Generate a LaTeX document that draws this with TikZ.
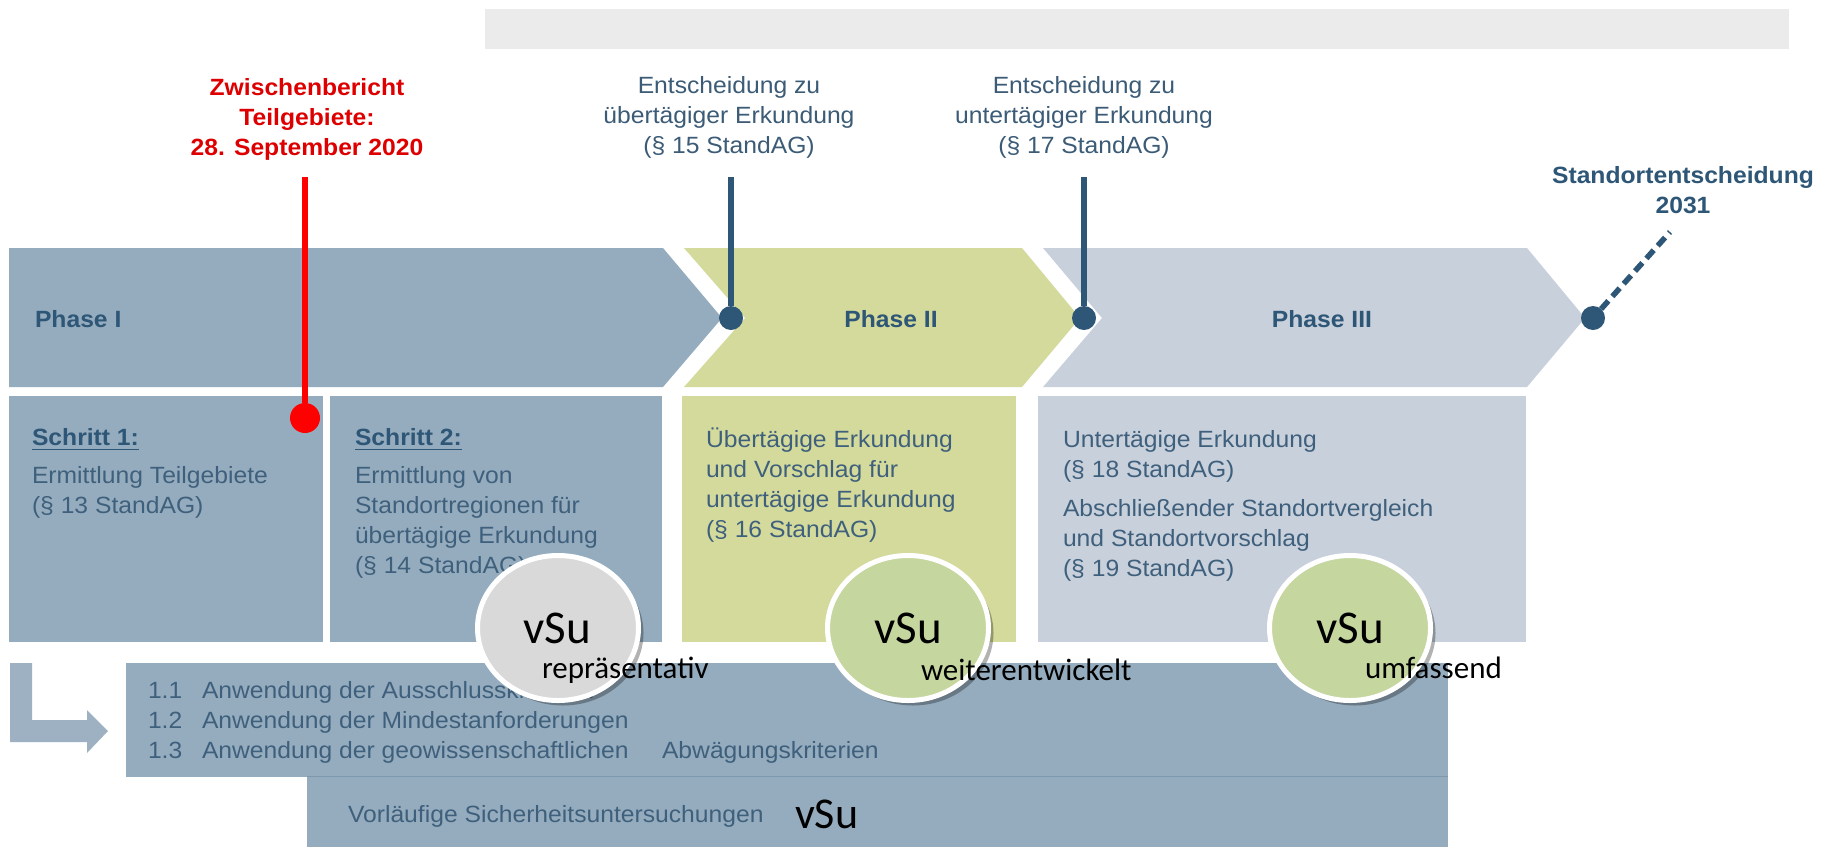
\documentclass[tikz,border=0pt]{standalone}
\usepackage{fontspec}
\setmainfont{Liberation Sans}[FakeStretch=1.05]
\newfontfamily\calib{Carlito}
\usetikzlibrary{shadows,shapes.geometric}
\definecolor{pone}{HTML}{95ACBE}
\definecolor{ptwo}{HTML}{D4DA9C}
\definecolor{pthree}{HTML}{C8D0DC}
\definecolor{topbar}{HTML}{EBEBEB}
\definecolor{dkblue}{HTML}{2E5676}
\definecolor{txtblue}{HTML}{3B5B76}
\definecolor{boxtxt}{HTML}{3F607C}
\definecolor{circgrey}{HTML}{D9D9D9}
\definecolor{circgreen}{HTML}{C5D69F}
\definecolor{arrowc}{HTML}{9DB1C2}
\definecolor{redline}{HTML}{FF0000}
\definecolor{redtxt}{HTML}{DE0000}
\definecolor{sepline}{HTML}{7D97AD}
\tikzset{
  every node/.style={inner sep=0pt, outer sep=0pt},
  txt/.style={font=\fontsize{23.5}{27}\selectfont, text=boxtxt, anchor=base west},
  ctxt/.style={font=\fontsize{23.5}{27}\selectfont, text=txtblue, anchor=base},
  boldlbl/.style={font=\fontsize{23.5}{27}\selectfont\bfseries, text=dkblue},
  redlbl/.style={font=\fontsize{23.5}{27}\selectfont\bfseries, text=redtxt, anchor=base},
  bdot/.style={circle, fill=dkblue, minimum size=24pt},
  bline/.style={draw=dkblue, line width=5.5pt},
  vcirc/.style={ellipse, draw=white, line width=5pt, minimum width=161pt, minimum height=145pt,
     drop shadow={shadow xshift=5pt, shadow yshift=-5pt, opacity=0.3, fill=black}},
  vsu/.style={font=\calib\fontsize{47}{50}\selectfont, text=black, anchor=base},
  vsub/.style={font=\calib\fontsize{31}{34}\selectfont, text=black, anchor=base west},
}
\begin{document}
\begin{tikzpicture}[x=1pt,y=-1pt]
\useasboundingbox (0,0) rectangle (1831,847);
\fill[white] (0,0) rectangle (1831,847);
% top grey bar
\fill[topbar] (485,9) rectangle (1789,49);
% phase chevrons
\fill[pone] (9,248) -- (663,248) -- (722,318) -- (663,387) -- (9,387) -- cycle;
\fill[ptwo] (684,248) -- (1022,248) -- (1080,318) -- (1022,387) -- (684,387) -- (745,318) -- cycle;
\fill[pthree] (1043,248) -- (1527,248) -- (1585,318) -- (1527,387) -- (1043,387) -- (1102,318) -- cycle;
% step boxes
\fill[pone] (9,396) rectangle (323,642);
\fill[pone] (330,396) rectangle (662,642);
\fill[ptwo] (682,396) rectangle (1016,642);
\fill[pthree] (1038,396) rectangle (1526,642);
% lower band
\fill[pone] (126,663) rectangle (1448,777);
\fill[pone] (307,777) rectangle (1448,847);
\draw[sepline, line width=1.5pt] (307,776.5) -- (1448,776.5);
% L arrow
\fill[arrowc] (10,663) -- (32,663) -- (32,720) -- (87,720) -- (87,710) -- (108,731)
  -- (87,753) -- (87,742) -- (10,742) -- cycle;

% phase labels
\node[boldlbl, anchor=base west] (ph1) at (35,327) {Phase I};
\node[boldlbl, anchor=base] (ph2) at (891,327) {Phase II};
\node[boldlbl, anchor=base] (ph3) at (1322,327) {Phase III};

% red milestone
\node[redlbl] (r1) at (307,95) {Zwischenbericht};
\node[redlbl] (r2) at (307,125) {Teilgebiete:};
\node[redlbl] (r3) at (307,155) {28. September 2020};
\coordinate (redtop) at (305,177);
\node[circle, fill=redline, minimum size=30pt] (rdot) at (305,418) {};
\draw[redline, line width=6pt] (redtop) -- (rdot);

% decision 1
\node[ctxt] (e1a) at (729,93) {Entscheidung zu};
\node[ctxt] (e1b) at (729,123) {übertägiger Erkundung};
\node[ctxt] (e1c) at (729,153) {(§ 15 StandAG)};
\coordinate (d1top) at (731,177);
\node[bdot] (d1) at (731,318) {};
\draw[bline] (d1top) -- (d1);

% decision 2
\node[ctxt] (e2a) at (1084,93) {Entscheidung zu};
\node[ctxt] (e2b) at (1084,123) {untertägiger Erkundung};
\node[ctxt] (e2c) at (1084,153) {(§ 17 StandAG)};
\coordinate (d2top) at (1084,177);
\node[bdot] (d2) at (1084,318) {};
\draw[bline] (d2top) -- (d2);

% final decision
\node[boldlbl, anchor=base] (s1) at (1683,183) {Standortentscheidung};
\node[boldlbl, anchor=base] (s2) at (1683,213) {2031};
\coordinate (d3top) at (1670,232);
\node[bdot] (d3) at (1593,318) {};
\draw[bline, dash pattern=on 11pt off 6pt] (d3) -- (d3top);

% box 1
\node[boldlbl, anchor=base west] (sch1) at (32,445) {Schritt 1:};
\draw[dkblue, line width=1.8pt] ([yshift=-4.5pt]sch1.base west) -- ([yshift=-4.5pt]sch1.base east);
\node[txt] (b1a) at (32,483) {Ermittlung Teilgebiete};
\node[txt] (b1b) at (32,513) {(§ 13 StandAG)};
% box 2
\node[boldlbl, anchor=base west] (sch2) at (355,445) {Schritt 2:};
\draw[dkblue, line width=1.8pt] ([yshift=-4.5pt]sch2.base west) -- ([yshift=-4.5pt]sch2.base east);
\node[txt] (b2a) at (355,483) {Ermittlung von};
\node[txt] (b2b) at (355,513) {Standortregionen für};
\node[txt] (b2c) at (355,543) {übertägige Erkundung};
\node[txt] (b2d) at (355,573) {(§ 14 StandAG)};
% box 3
\node[txt] (b3a) at (706,447) {Übertägige Erkundung};
\node[txt] (b3b) at (706,477) {und Vorschlag für};
\node[txt] (b3c) at (706,507) {untertägige Erkundung};
\node[txt] (b3d) at (706,537) {(§ 16 StandAG)};
% box 4
\node[txt] (b4a) at (1063,447) {Untertägige Erkundung};
\node[txt] (b4b) at (1063,477) {(§ 18 StandAG)};
\node[txt] (b4c) at (1063,516) {Abschließender Standortvergleich};
\node[txt] (b4d) at (1063,546) {und Standortvorschlag};
\node[txt] (b4e) at (1063,576) {(§ 19 StandAG)};

% list
\node[txt] (n11) at (148,698) {1.1};
\node[txt] (l11) at (202,698) {Anwendung der Ausschlusskriterien};
\node[txt] (n12) at (148,728) {1.2};
\node[txt] (l12) at (202,728) {Anwendung der Mindestanforderungen};
\node[txt] (n13) at (148,758) {1.3};
\node[txt] (l13) at (202,758) {Anwendung der geowissenschaftlichen};
\node[txt] (l13b) at (662,758) {Abwägungskriterien};
\node[txt] (vl) at (348,822) {Vorläufige Sicherheitsuntersuchungen};
\node[font=\calib\fontsize{44}{48}\selectfont, text=black, anchor=base west] (vsb) at (795,828) {vSu};

% vSu circles
\node[vcirc, fill=circgrey] (c1) at (558,628) {};
\node[vcirc, fill=circgreen] (c2) at (908,628) {};
\node[vcirc, fill=circgreen] (c3) at (1350,628) {};
\node[vsu] (v1) at (557,643) {vSu};
\node[vsu] (v2) at (908,643) {vSu};
\node[vsu] (v3) at (1350,643) {vSu};
\node[vsub] (t1) at (542,678) {repräsentativ};
\node[vsub] (t2) at (921,680) {weiterentwickelt};
\node[vsub] (t3) at (1365,678) {umfassend};
\end{tikzpicture}
\end{document}
